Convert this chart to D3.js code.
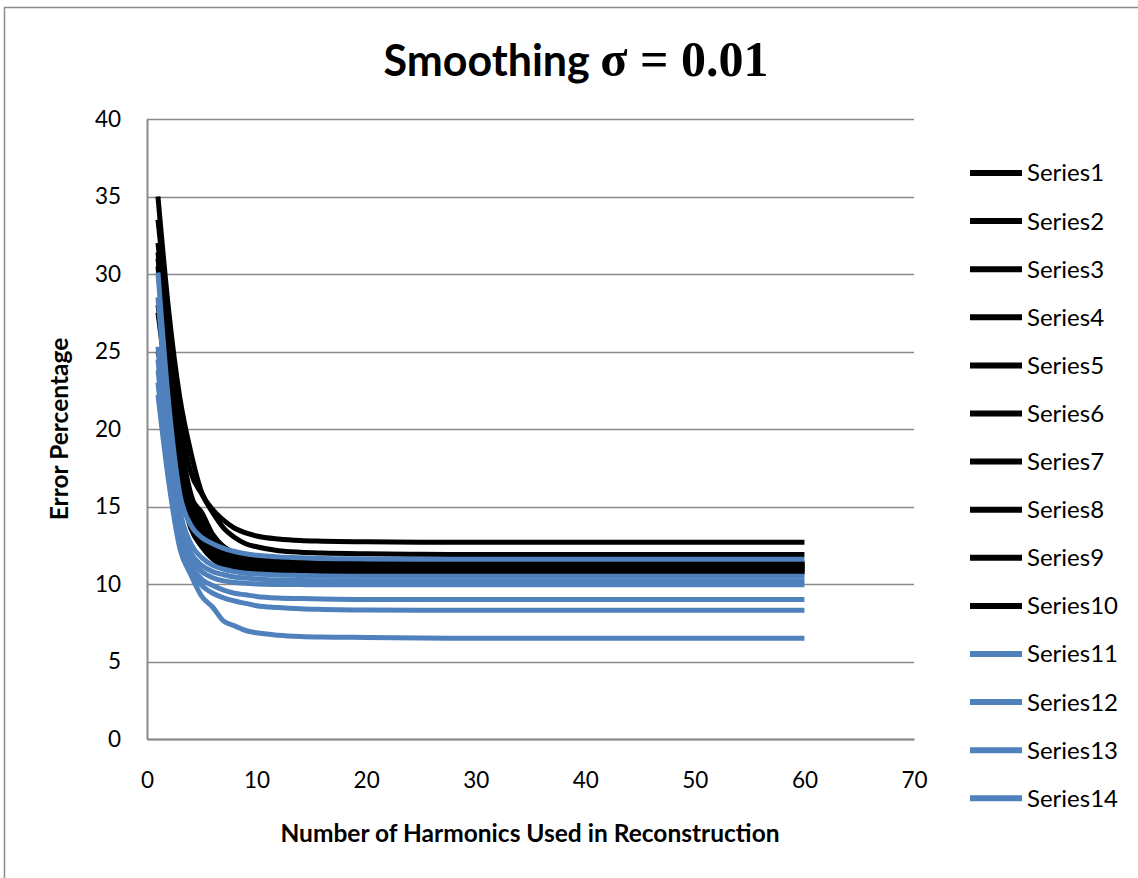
<!DOCTYPE html>
<html>
<head>
<meta charset="utf-8">
<script src="https://cdn.jsdelivr.net/npm/d3@7"></script>
<style>
  html, body { margin: 0; padding: 0; background: #fff; }
  svg { display: block; }
  text { font-family: Lato, "Open Sans", sans-serif; fill: #000; }
</style>
</head>
<body>
<svg id="chart" width="1138" height="878"></svg>
<script>
// ---- data ----
const harmonics = [1, 2, 3, 4, 5, 6, 7, 8, 9, 10, 12, 14, 16, 20, 25, 30, 40, 50, 60];

const series1  = [35.0, 27.5, 22.0, 18.5, 15.9, 14.8, 14.1, 13.6, 13.3, 13.1, 12.9, 12.8, 12.76, 12.72, 12.7, 12.7, 12.7, 12.7, 12.7];
const series2  = [33.5, 26.8, 20.8, 17.2, 15.8, 14.6, 13.6, 13.0, 12.6, 12.4, 12.15, 12.05, 12.0, 11.95, 11.92, 11.9, 11.9, 11.9, 11.9];
const series3  = [32.0, 25.5, 19.5, 15.8, 14.2, 13.0, 12.4, 12.0, 11.8, 11.6, 11.45, 11.38, 11.35, 11.32, 11.3, 11.3, 11.3, 11.3, 11.3];
const series4  = [31.4, 24.5, 18.8, 15.2, 13.9, 12.8, 12.2, 11.8, 11.6, 11.45, 11.3, 11.25, 11.22, 11.2, 11.2, 11.2, 11.2, 11.2, 11.2];
const series5  = [31.0, 24.0, 18.2, 14.8, 13.5, 12.4, 11.9, 11.6, 11.4, 11.3, 11.2, 11.15, 11.12, 11.1, 11.1, 11.1, 11.1, 11.1, 11.1];
const series6  = [30.5, 23.2, 17.6, 14.5, 13.2, 12.2, 11.7, 11.4, 11.25, 11.15, 11.08, 11.04, 11.02, 11.0, 11.0, 11.0, 11.0, 11.0, 11.0];
const series7  = [28.0, 22.5, 17.2, 14.2, 13.0, 12.0, 11.5, 11.25, 11.1, 11.0, 10.95, 10.92, 10.9, 10.9, 10.9, 10.9, 10.9, 10.9, 10.9];
const series8  = [27.5, 22.0, 16.8, 13.9, 12.7, 11.8, 11.3, 11.1, 10.95, 10.88, 10.83, 10.8, 10.8, 10.8, 10.8, 10.8, 10.8, 10.8, 10.8];
const series9  = [25.0, 21.5, 16.5, 13.6, 12.4, 11.6, 11.2, 11.0, 10.9, 10.82, 10.78, 10.76, 10.75, 10.75, 10.75, 10.75, 10.75, 10.75, 10.75];
const series10 = [23.5, 22.8, 18.5, 15.6, 14.6, 13.2, 12.4, 12.0, 11.75, 11.6, 11.48, 11.42, 11.38, 11.36, 11.35, 11.35, 11.35, 11.35, 11.35];
const series11 = [30.1, 21.5, 15.8, 13.8, 13.0, 12.6, 12.3, 12.1, 11.95, 11.85, 11.75, 11.7, 11.65, 11.62, 11.6, 11.6, 11.6, 11.6, 11.6];
const series12 = [28.5, 20.5, 14.8, 12.6, 11.7, 11.2, 10.95, 10.8, 10.7, 10.65, 10.58, 10.55, 10.52, 10.5, 10.5, 10.5, 10.5, 10.5, 10.5];
const series13 = [25.3, 19.0, 14.0, 12.0, 11.2, 10.8, 10.6, 10.45, 10.38, 10.32, 10.26, 10.23, 10.21, 10.2, 10.2, 10.2, 10.2, 10.2, 10.2];
const series14 = [23.8, 18.0, 13.4, 11.6, 10.8, 10.4, 10.2, 10.1, 10.05, 10.0, 9.97, 9.96, 9.95, 9.95, 9.95, 9.95, 9.95, 9.95, 9.95];
const series15 = [24.5, 17.5, 13.0, 11.2, 10.3, 9.9, 9.6, 9.4, 9.3, 9.2, 9.1, 9.06, 9.03, 9.0, 9.0, 9.0, 9.0, 9.0, 9.0];
const series16 = [23.0, 16.8, 12.6, 10.8, 9.9, 9.4, 9.1, 8.9, 8.75, 8.6, 8.48, 8.4, 8.36, 8.32, 8.3, 8.3, 8.3, 8.3, 8.3];
const series17 = [22.2, 16.5, 12.3, 10.6, 9.2, 8.5, 7.6, 7.3, 7.0, 6.85, 6.7, 6.62, 6.58, 6.55, 6.52, 6.5, 6.5, 6.5, 6.5];

const seriesValues = [series1, series2, series3, series4, series5, series6, series7, series8, series9,
                      series10, series11, series12, series13, series14, series15, series16, series17];
const seriesNames = seriesValues.map((_, i) => "Series" + (i + 1));
const legendCount = 14;   // only the first 14 entries fit the legend box
const xTicks = [0, 10, 20, 30, 40, 50, 60, 70];
const yTicks = [0, 5, 10, 15, 20, 25, 30, 35, 40];

// ---- layout ----
const svg = d3.select("#chart");
const plot = { left: 147, right: 914, top: 119, bottom: 739 };
const black = "#000000", blue = "#4f81bd", grid = "#8a8a8a";
const colorOf = i => (i < 10 ? black : blue);

// outer chart border (right/bottom cropped)
svg.append("rect").attr("x", 4.5).attr("y", 7.5).attr("width", 1200).attr("height", 1000)
  .attr("fill", "none").attr("stroke", "#8c8c8c").attr("stroke-width", 1.5);

const x = d3.scaleLinear().domain([0, 70]).range([plot.left, plot.right]);
const y = d3.scaleLinear().domain([0, 40]).range([plot.bottom, plot.top]);

// gridlines
svg.append("g").selectAll("line").data(yTicks).join("line")
  .attr("x1", plot.left).attr("x2", plot.right)
  .attr("y1", d => Math.round(y(d)) + 0.5).attr("y2", d => Math.round(y(d)) + 0.5)
  .attr("stroke", grid).attr("stroke-width", 1.5);

// axes
const yAxis = svg.append("g").attr("transform", `translate(${plot.left},0)`)
  .call(d3.axisLeft(y).tickValues(yTicks).tickSize(0).tickPadding(26));
yAxis.select(".domain").attr("stroke", grid).attr("stroke-width", 2);
yAxis.selectAll("text").attr("font-size", 22.5).style("font-family", "Lato, sans-serif");

const xAxis = svg.append("g").attr("transform", `translate(0,${plot.bottom})`)
  .call(d3.axisBottom(x).tickValues(xTicks).tickSize(0).tickPadding(33));
xAxis.select(".domain").attr("stroke", grid).attr("stroke-width", 2);
xAxis.selectAll("text").attr("font-size", 22.5).style("font-family", "Lato, sans-serif");

// lines
const line = d3.line().x((d, i) => x(harmonics[i])).y(d => y(d)).curve(d3.curveMonotoneX);
const order = d3.range(seriesValues.length);
svg.append("g").selectAll("path").data(order).join("path")
  .attr("d", i => line(seriesValues[i]))
  .attr("fill", "none").attr("stroke", i => colorOf(i))
  .attr("stroke-width", 5).attr("stroke-linejoin", "round").attr("stroke-linecap", "butt");

// title
const title = svg.append("text").attr("x", 576).attr("y", 76).attr("text-anchor", "middle")
  .attr("font-weight", "bold");
title.append("tspan").attr("font-size", 43).style("font-family", "Lato, sans-serif").text("Smoothing ");
title.append("tspan").attr("font-size", 50).style("font-family", "'Liberation Serif', serif").text("σ = 0.01");

// axis titles
svg.append("text").attr("x", 530).attr("y", 842).attr("text-anchor", "middle")
  .attr("font-weight", "bold").attr("font-size", 24.5).text("Number of Harmonics Used in Reconstruction");
svg.append("text").attr("transform", "translate(68,429) rotate(-90)").attr("text-anchor", "middle")
  .attr("font-weight", "bold").attr("font-size", 24.5).text("Error Percentage");

// legend
const leg = svg.append("g").selectAll("g").data(d3.range(legendCount)).join("g")
  .attr("transform", i => `translate(970,${173 + i * 48.1})`);
leg.append("line").attr("x1", 0).attr("x2", 52).attr("stroke", i => colorOf(i)).attr("stroke-width", 6);
leg.append("text").attr("x", 57).attr("dy", "0.35em").attr("font-size", 24).text(i => seriesNames[i]);
</script>
</body>
</html>
